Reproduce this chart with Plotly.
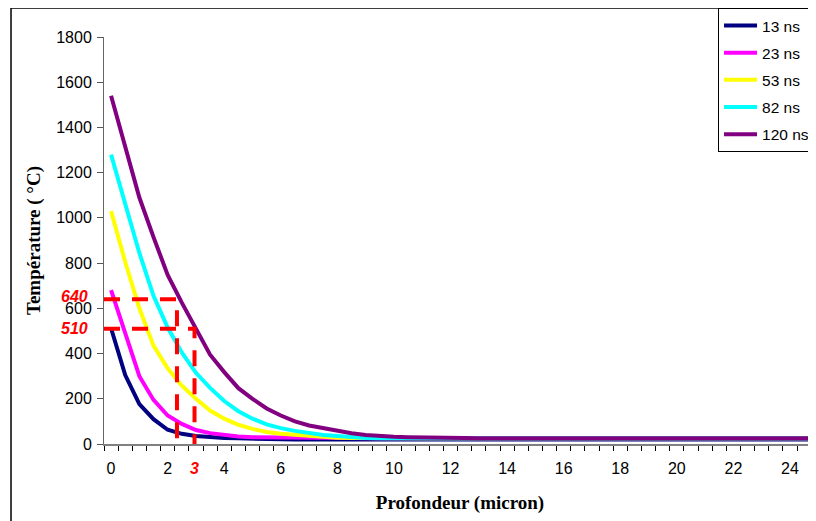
import plotly.graph_objects as go

# ---------------- data ----------------
depth = [0, 0.5, 1, 1.5, 2, 2.5, 3, 3.5, 4, 4.5, 5, 5.5, 6, 6.5, 7, 7.5, 8, 8.5, 9, 9.5,
         10, 10.5, 11, 11.5, 12, 12.5, 13, 13.5, 14, 14.5, 15, 15.5, 16, 16.5, 17, 17.5,
         18, 18.5, 19, 19.5, 20, 20.5, 21, 21.5, 22, 22.5, 23, 23.5, 24, 24.5, 25]

t_13ns = [512, 305, 176, 110, 63, 45, 35, 30, 27, 25, 23, 22, 21, 20, 20, 20, 20, 20, 20, 20,
          20, 20, 20, 20, 20, 20, 20, 20, 20, 20, 20, 20, 20, 20, 20, 20,
          20, 20, 20, 20, 20, 20, 20, 20, 20, 20, 20, 20, 20, 20, 20]
t_23ns = [680, 490, 300, 195, 126, 89, 62, 48, 40, 33, 30, 29, 28, 27, 26, 25, 25, 25, 25, 25,
          25, 25, 25, 25, 25, 25, 25, 25, 25, 25, 25, 25, 25, 25, 25, 25,
          25, 25, 25, 25, 25, 25, 25, 25, 25, 25, 25, 25, 25, 25, 25]
t_53ns = [1030, 805, 600, 435, 335, 258, 200, 148, 112, 85, 67, 53, 45, 40, 35, 30, 28, 26, 25, 25,
          25, 25, 25, 25, 25, 25, 25, 25, 25, 25, 25, 25, 25, 25, 25, 25,
          25, 25, 25, 25, 25, 25, 25, 25, 25, 25, 25, 25, 25, 25, 25]
t_82ns = [1280, 1055, 845, 655, 515, 405, 315, 248, 190, 145, 112, 87, 70, 58, 48, 40, 35, 30, 27, 25,
          25, 25, 25, 25, 25, 25, 25, 25, 25, 25, 25, 25, 25, 25, 25, 25,
          25, 25, 25, 25, 25, 25, 25, 25, 25, 25, 25, 25, 25, 25, 25]
t_120ns = [1540, 1310, 1090, 915, 748, 625, 512, 395, 318, 247, 200, 157, 126, 100, 82, 70, 58, 48, 40, 35,
           32, 30, 30, 30, 30, 26, 25, 25, 25, 25, 25, 25, 25, 25, 25, 25,
           25, 25, 25, 25, 25, 25, 25, 25, 25, 25, 25, 25, 25, 25, 25]

series_names = ["13 ns", "23 ns", "53 ns", "82 ns", "120 ns"]
series_values = [t_13ns, t_23ns, t_53ns, t_82ns, t_120ns]
series_colors = ["#000080", "#FF00FF", "#FFFF00", "#00FFFF", "#800080"]

x_tick_values = [0, 2, 4, 6, 8, 10, 12, 14, 16, 18, 20, 22, 24]
x_tick_labels = ["0", "2", "4", "6", "8", "10", "12", "14", "16", "18", "20", "22", "24"]
y_tick_values = [0, 200, 400, 600, 800, 1000, 1200, 1400, 1600, 1800]

guide_temps = [640, 510]
guide_depths = [2.33, 2.95]
guide_temp_labels = ["640", "510"]
guide_depth_label = "3"

x_range = [-0.25, 24.92]
y_range = [0, 1800]

# ---------------- figure ----------------
fig = go.Figure()
for name, vals, color in zip(series_names, series_values, series_colors):
    fig.add_trace(go.Scatter(x=depth, y=vals, name=name, mode="lines",
                             line=dict(color=color, width=4),
                             legendgroup=name))

for t, d in zip(guide_temps, guide_depths):
    fig.add_trace(go.Scatter(x=[x_range[0], d, d], y=[t, t, 0], mode="lines",
                             line=dict(color="#FF0000", width=4, dash="16px,12px"),
                             showlegend=False, hoverinfo="skip"))

red_font = dict(family="Liberation Sans, Arial", size=16, color="#FF0000",
                weight="bold", style="italic")
annotations = []
for t, lab, ys in zip(guide_temps, guide_temp_labels, [3, 0]):
    annotations.append(dict(x=-0.019, xref="paper", y=t, yref="y", text=lab,
                            showarrow=False, xanchor="right", yanchor="middle",
                            yshift=ys, font=red_font))
annotations.append(dict(x=guide_depths[1], xref="x", y=0, yref="paper",
                        text=guide_depth_label, showarrow=False,
                        xanchor="center", yanchor="middle", yshift=-24.5,
                        font=red_font))

shapes = [dict(type="rect", xref="paper", yref="paper",
               x0=-0.1306, y0=-0.3, x1=1.2, y1=1.0713,
               line=dict(color="black", width=1.5), fillcolor="rgba(0,0,0,0)",
               layer="below")]

tick_font = dict(family="Liberation Sans, Arial", size=16, color="black")
title_font = dict(family="Liberation Serif, Times New Roman", size=19,
                  color="black", weight="bold")

# The page adds an 8px body margin, so the figure is 8px smaller than the window.
fig.update_layout(
    width=808, height=513,
    margin=dict(l=96, r=0, t=29, b=77, autoexpand=False),
    paper_bgcolor="white", plot_bgcolor="white",
    showlegend=True,
    legend=dict(x=0.8624, y=1.0713, xanchor="left", yanchor="top",
                xref="paper", yref="paper",
                bgcolor="white", bordercolor="black", borderwidth=1,
                font=dict(family="Liberation Sans, Arial", size=15.5, color="black"),
                tracegroupgap=4, itemwidth=33),
    annotations=annotations,
    shapes=shapes,
    xaxis=dict(range=x_range, tickmode="array", tickvals=x_tick_values,
               ticktext=x_tick_labels, ticks="", showgrid=False, zeroline=False,
               showline=True, linecolor="#808080", linewidth=2,
               tickfont=tick_font, ticklabelstandoff=9,
               minor=dict(ticks="outside", tickmode="linear", tick0=-0.25, dtick=0.5,
                          ticklen=5, tickcolor="black", tickwidth=1, showgrid=False),
               title=dict(text="Profondeur (micron)", font=title_font, standoff=19)),
    yaxis=dict(range=y_range, tickmode="array", tickvals=y_tick_values,
               ticks="outside", ticklen=6, tickcolor="#555555", tickwidth=1,
               showgrid=False, zeroline=False, showline=True,
               linecolor="#666666", linewidth=1, tickfont=tick_font,
               ticklabelstandoff=2,
               title=dict(text="Température ( °C)", font=title_font, standoff=10)),
)

fig.write_html("out.html")
